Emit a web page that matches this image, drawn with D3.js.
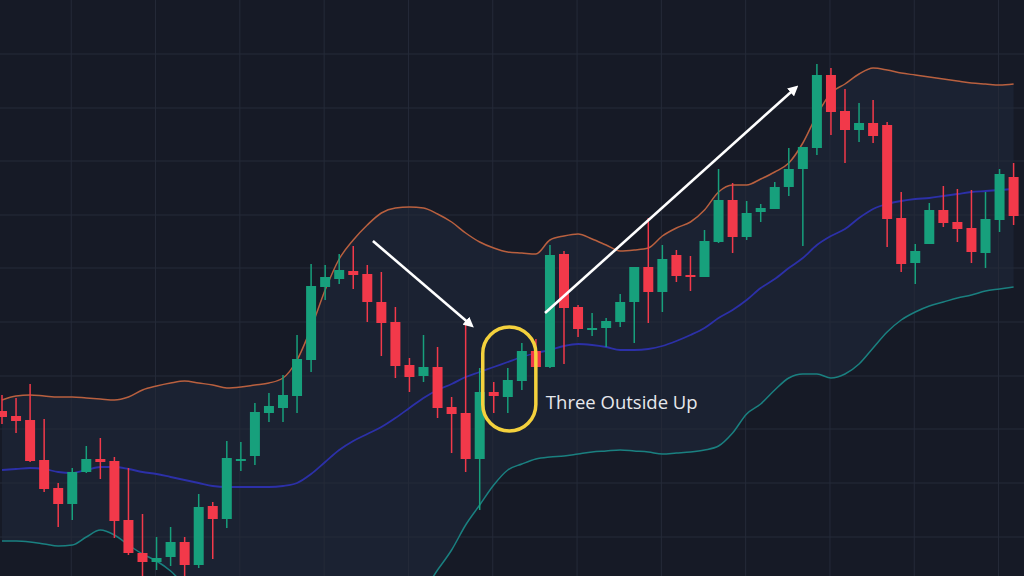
<!DOCTYPE html>
<html>
<head>
<meta charset="utf-8">
<script src="https://cdn.jsdelivr.net/npm/d3@7"></script>
<style>
html,body{margin:0;padding:0;background:#161a26;overflow:hidden;}
svg{display:block;}
</style>
</head>
<body>
<svg id="chart" width="1024" height="576"></svg>
<script>
// ---- Data (price units) ----
const opens  = [165,160,156,116,88,72,104,117,115,56,23,14,19,34,11,70,57,116,120,163,168,180,216,289,297,305,302,274,254,211,200,209,169,163,117,184,179,195,225,209,322,269,246,248,254,274,309,284,321,301,299,334,376,339,364,367,389,407,428,501,465,446,453,451,358,313,332,366,354,348,323,356,399];
const highs  = [181,178,192,157,93,108,130,138,119,108,62,39,49,39,82,74,135,134,173,183,201,241,312,311,322,330,311,304,269,218,241,229,179,251,208,194,208,233,237,331,325,271,263,258,282,309,358,331,326,320,346,407,393,375,372,394,428,429,512,508,487,473,476,454,384,332,373,390,387,386,384,407,413];
const lows   = [152,143,114,84,49,56,103,97,38,21,-4,6,10,-2,8,17,48,105,111,154,154,163,204,276,292,287,254,220,198,184,194,158,123,104,66,163,163,186,208,208,212,239,240,229,249,233,253,264,294,285,299,333,323,336,354,367,380,330,421,441,413,434,433,329,304,292,332,349,334,313,308,344,351];
const closes = [159,155,115,87,72,104,117,114,55,23,14,18,34,11,69,57,118,117,164,170,181,217,290,299,306,301,274,253,210,199,209,168,162,117,184,180,196,225,209,321,268,247,248,255,274,309,284,317,300,299,335,376,339,363,368,389,407,429,501,464,446,453,440,357,312,325,366,353,347,324,357,402,360];

// Bollinger bands (price units, one value per candle)
const upperBand = [176,180,181,180,179,179,178,177,176,179,186,190,193,195,193,191,188,189,191,193,198,216,248,286,317,336,351,363,368,369,368,362,354,343,334,328,324,323,322,336,340,342,337,331,325,326,328,340,348,354,366,384,391,391,397,404,413,433,461,483,492,502,508,506,503,501,499,497,495,493,492,491,492];
const midBand   = [106,107,108,107,104,103,106,109,109,107,104,102,99,96,93,90,89,89,89,89,90,93,102,114,126,135,142,149,158,168,178,186,192,199,204,209,214,219,223,226,230,232,231,229,226,226,227,230,235,241,248,258,266,276,288,297,308,318,331,340,347,358,367,372,375,377,378,380,382,384,385,386,387];
const lowerBand = [35,35,34,32,30,31,39,46,41,31,22,15,5,-9,-20,-28,-36,-42,-46,-48,-50,-50,-49,-47,-44,-40,-35,-30,-25,-20,-14,6,26,51,71,91,106,112,117,119,120,122,124,125,126,125,124,122,123,124,126,130,143,162,172,186,198,202,202,198,202,212,228,244,256,264,270,274,278,281,285,287,289];

// Grid positions
const gridXIdx = [5,11,17,23,29,35,41,47,53,59,65,71];
const gridYVal = [39,93,147,200,254,308,361,415,468,522];

// Annotations
const patternLabel = "Three Outside Up";
const patternIdx = [35,36,37];

const W = 1024, H = 576;
const svg = d3.select("#chart");

const x = d3.scaleLinear().domain([0, opens.length - 1]).range([2, 2 + 14.05 * (opens.length - 1)]);
const y = d3.scaleLinear().domain([0, 576]).range([576, 0]);

const idx = d3.range(opens.length);
const candles = idx.map(i => ({i, o: opens[i], h: highs[i], l: lows[i], c: closes[i]}));

// background
svg.append("rect").attr("width", W).attr("height", H).attr("fill", "#161a26");

// band fill
const area = d3.area()
  .x(i => x(i))
  .y0(i => y(lowerBand[i]))
  .y1(i => y(upperBand[i]))
  .curve(d3.curveMonotoneX);
svg.append("path").datum(idx).attr("d", area).attr("fill", "#1b2232");

// grid
svg.append("g").selectAll("line").data(gridXIdx).join("line")
  .attr("x1", d => x(d) - 1).attr("x2", d => x(d) - 1)
  .attr("y1", 0).attr("y2", H)
  .attr("stroke", "#252a39").attr("stroke-width", 1);
svg.append("g").selectAll("line").data(gridYVal).join("line")
  .attr("x1", 0).attr("x2", W)
  .attr("y1", d => y(d)).attr("y2", d => y(d))
  .attr("stroke", "#252a39").attr("stroke-width", 1);

// band lines
const mkLine = arr => d3.line().x(i => x(i)).y(i => y(arr[i])).curve(d3.curveMonotoneX);
svg.append("path").datum(idx).attr("d", mkLine(upperBand)).attr("fill", "none").attr("stroke", "#b9603f").attr("stroke-width", 1.5);
svg.append("path").datum(idx).attr("d", mkLine(midBand)).attr("fill", "none").attr("stroke", "#2c30a8").attr("stroke-width", 1.8);
svg.append("path").datum(idx).attr("d", mkLine(lowerBand)).attr("fill", "none").attr("stroke", "#1a8080").attr("stroke-width", 1.5);

// candles
const green = "#17a07c", red = "#f2394a";
const bw = 10;
const cg = svg.append("g");
cg.selectAll("line").data(candles).join("line")
  .attr("x1", d => x(d.i)).attr("x2", d => x(d.i))
  .attr("y1", d => y(d.h)).attr("y2", d => y(d.l))
  .attr("stroke", d => d.c >= d.o ? green : red).attr("stroke-width", 1.5);
cg.selectAll("rect").data(candles).join("rect")
  .attr("x", d => x(d.i) - bw / 2).attr("width", bw)
  .attr("y", d => y(Math.max(d.o, d.c)))
  .attr("height", d => Math.max(2, Math.abs(y(d.o) - y(d.c))))
  .attr("fill", d => d.c >= d.o ? green : red);

// arrows
const defs = svg.append("defs");
defs.append("marker").attr("id", "ah").attr("viewBox", "0 0 10 10")
  .attr("refX", 5).attr("refY", 5).attr("markerWidth", 4).attr("markerHeight", 4)
  .attr("orient", "auto")
  .append("path").attr("d", "M0,0 L10,5 L0,10 z").attr("fill", "#ffffff");

function arrow(i0, v0, i1, v1) {
  svg.append("line")
    .attr("x1", x(i0)).attr("y1", y(v0)).attr("x2", x(i1)).attr("y2", y(v1))
    .attr("stroke", "#ffffff").attr("stroke-width", 2.6)
    .attr("marker-end", "url(#ah)");
}
arrow(26.4, 335, 33.3, 252);
arrow(38.65, 263, 56.4, 487);

// pattern capsule
const px0 = x(patternIdx[0]) - 11, px1 = x(patternIdx[2]) + 14;
const pTop = y(d3.max(patternIdx, i => highs[i])) - 16;
const pBot = y(d3.min(patternIdx, i => lows[i])) + 18;
svg.append("rect")
  .attr("x", px0).attr("y", pTop).attr("width", px1 - px0).attr("height", pBot - pTop)
  .attr("rx", (px1 - px0) / 2).attr("ry", (px1 - px0) / 2)
  .attr("fill", "none").attr("stroke", "#f4d13d").attr("stroke-width", 3.5);

svg.append("text")
  .attr("x", px1 + 10).attr("y", y(167))
  .attr("fill", "#e6e8ec")
  .attr("font-family", "'Open Sans', 'Noto Sans', sans-serif")
  .attr("font-size", 18.5)
  .text(patternLabel);
</script>
</body>
</html>
